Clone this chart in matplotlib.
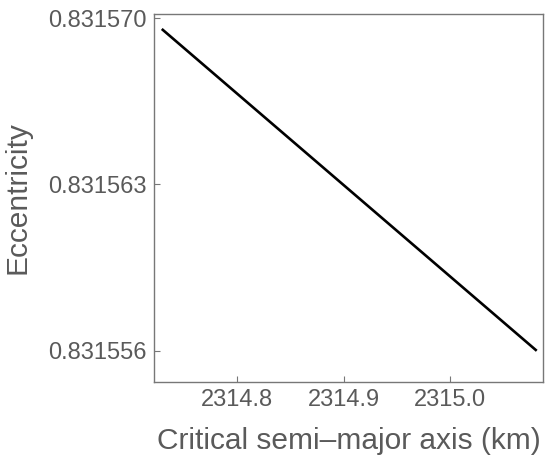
import matplotlib
matplotlib.use("Agg")
import matplotlib.pyplot as plt
import numpy as np

plt.rcParams['font.family'] = ['Liberation Sans', 'DejaVu Sans']

# critical semi-major axis (km) vs eccentricity, endpoints
semi_major = [2314.729, 2315.0815]
eccentricity = [0.83156954, 0.831556]

xticks = [2314.8, 2314.9, 2315.0]
yticks = [0.831556, 0.831563, 0.831570]

grey = "#5a5a5a"
fig = plt.figure(figsize=(5.5, 4.58), dpi=100)
ax = fig.add_axes([154/550, 1 - 381.7/458, (543-154)/550, (381.7-14)/458])

ax.plot(semi_major, eccentricity, color="black", lw=1.9, solid_capstyle="butt")

ax.set_xlim(2314.7217, 2315.0874)
ax.set_ylim(0.8315547, 0.83157017)
ax.set_xticks(xticks)
ax.set_xticklabels([f"{v:.1f}" for v in xticks])
ax.set_yticks(yticks)
ax.set_yticklabels([f"{v:.6f}" for v in yticks])

for s in ax.spines.values():
    s.set_color("#777777")
    s.set_linewidth(1.0)
ax.tick_params(direction="in", length=4, width=0.8, color="#777777",
               labelsize=17, labelcolor=grey, pad=5)

ax.set_xlabel("Critical semi\u2013major axis (km)", fontsize=21.5, color=grey, labelpad=12)
ax.set_ylabel("Eccentricity", fontsize=21.5, color=grey, labelpad=12)

fig.savefig("out.png", dpi=100)
